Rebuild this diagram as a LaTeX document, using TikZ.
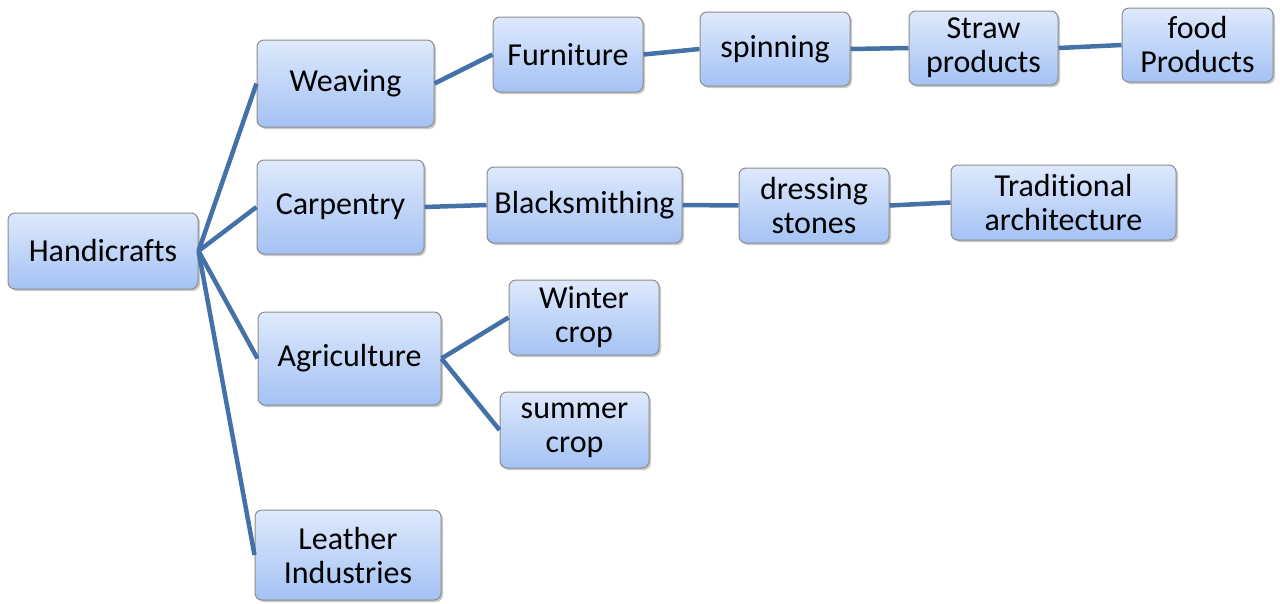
\documentclass[tikz,border=0pt]{standalone}
\usepackage{fontspec}
\setmainfont{Carlito}[Ligatures=NoCommon]
\usetikzlibrary{shadows}
\definecolor{boxtop}{RGB}{222,233,252}
\definecolor{boxbot}{RGB}{164,194,244}
\definecolor{boxline}{RGB}{140,140,140}
\definecolor{conn}{RGB}{68,114,168}
\tikzset{
  box/.style={draw=boxline, line width=1pt, rounded corners=7pt,
    top color=boxtop, bottom color=boxbot, align=center, inner sep=2pt,
    font=\fontsize{32}{34}\selectfont,
    drop shadow={shadow xshift=2pt, shadow yshift=-2pt, opacity=0.35, fill=black!60}},
  link/.style={draw=conn, line width=4.5pt}
}
\newcommand{\bx}[6]{% name, left, top, right, bottom, text
  \node[box, minimum width={#4-#2}, minimum height={#5-#3}] (#1) at ({(#2+#4)/2},{(#3+#5)/2}) {#6};}
\begin{document}
\begin{tikzpicture}[x=1pt,y=-1pt]
\useasboundingbox (0,0) rectangle (1280,603);
\bx{h}{8}{213}{198}{289}{Handicrafts}
\bx{w}{257}{40}{434}{127}{Weaving}
\bx{c}{257}{160}{424}{254}{Carpentry}
\bx{a}{258}{312}{441}{405}{Agriculture}
\bx{l}{255}{510}{441}{600}{Leather\\Industries}
\bx{f}{493}{17}{643}{92}{Furniture}
\bx{s}{700}{12}{850}{86}{spinning}
\bx{st}{909}{11}{1058}{85}{Straw\\products}
\bx{fp}{1122}{8}{1273}{82}{food\\Products}
\bx{b}{487}{167}{682}{243}{Blacksmithing}
\bx{d}{739}{168}{889}{243}{dressing\\stones}
\bx{t}{951}{165}{1176}{240}{Traditional\\architecture}
\bx{wc}{509}{280}{659}{355}{Winter\\crop}
\bx{sc}{500}{392}{649}{468}{summer\\crop}
\draw[link] (h.east) -- (w.west);
\draw[link] (h.east) -- (c.west);
\draw[link] (h.east) -- (a.west);
\draw[link] (h.east) -- (l.west);
\draw[link] (w.east) -- (f.west);
\draw[link] (f.east) -- (s.west);
\draw[link] (s.east) -- (st.west);
\draw[link] (st.east) -- (fp.west);
\draw[link] (c.east) -- (b.west);
\draw[link] (b.east) -- (d.west);
\draw[link] (d.east) -- (t.west);
\draw[link] (a.east) -- (wc.west);
\draw[link] (a.east) -- (sc.west);
\end{tikzpicture}
\end{document}
